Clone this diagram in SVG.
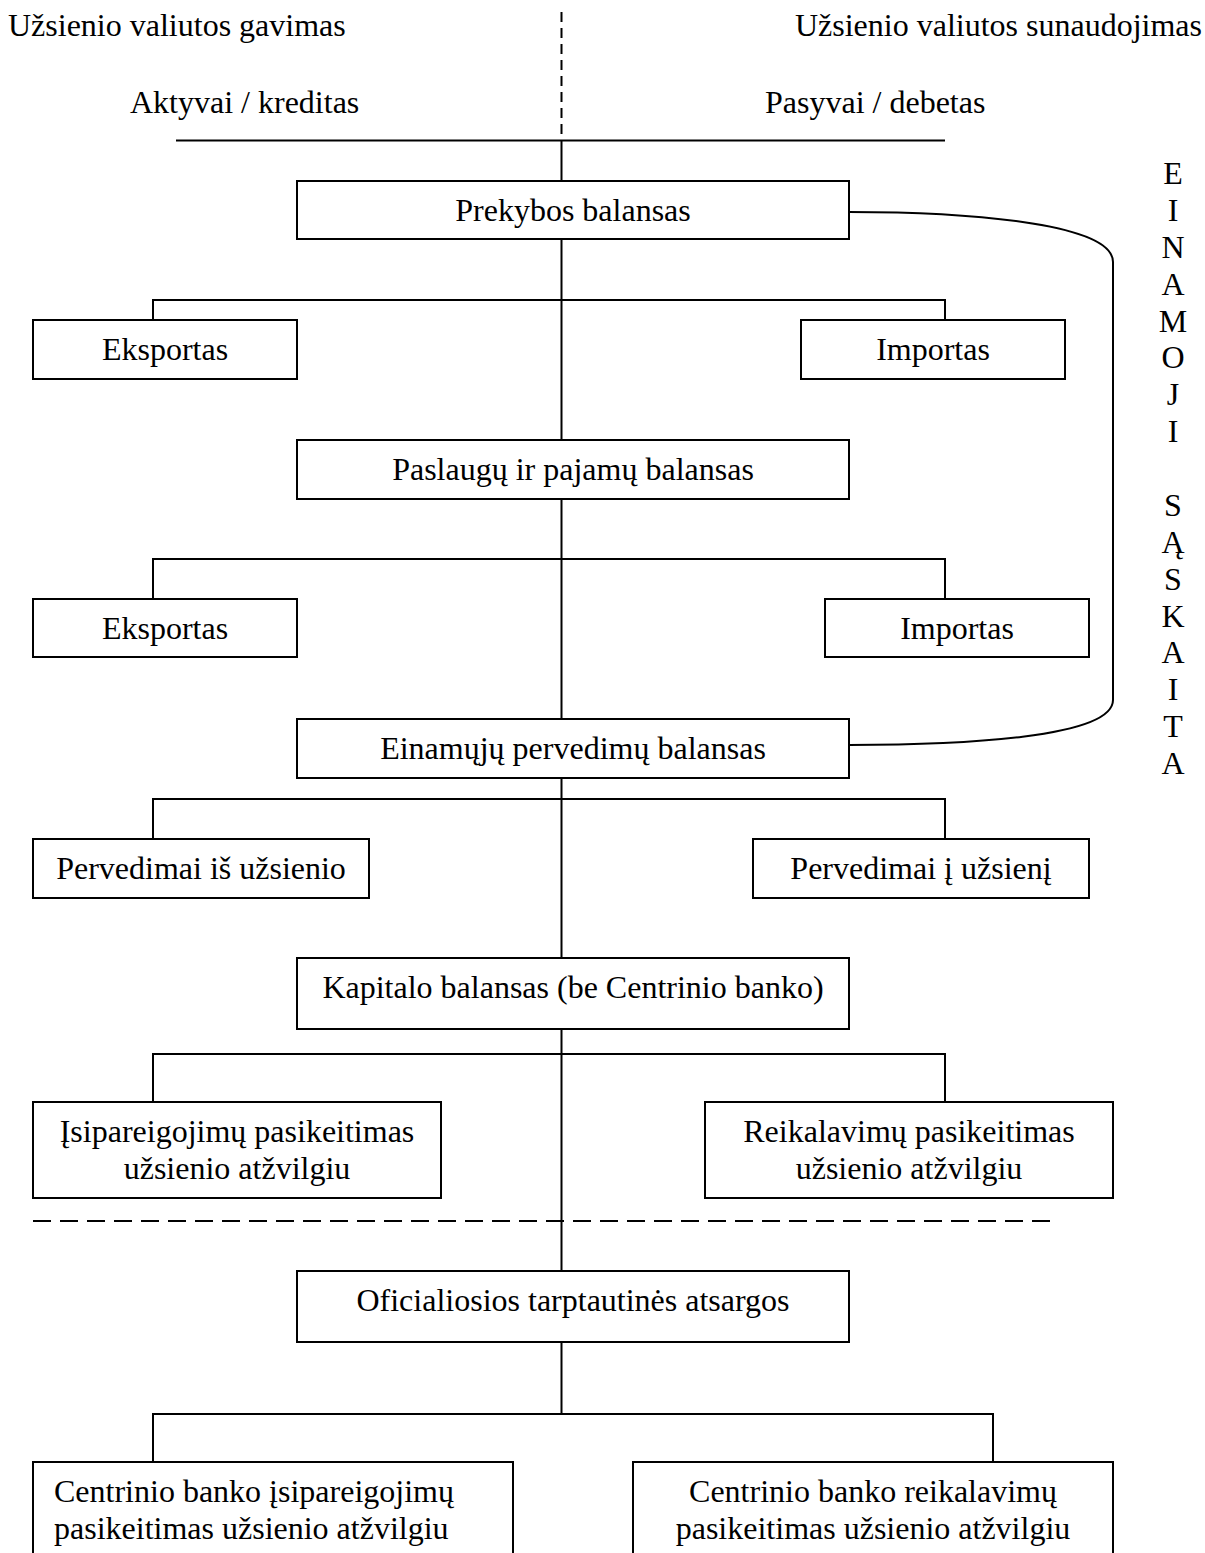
<svg xmlns="http://www.w3.org/2000/svg" width="1205" height="1553" viewBox="0 0 1205 1553">
<style>
text{font-family:"Liberation Serif","Times New Roman",serif;font-size:32px;fill:#000}
.c{text-anchor:middle}
.box{fill:#fff;stroke:#000;stroke-width:2}
.ln{fill:none;stroke:#000;stroke-width:2}
.dash{fill:none;stroke:#000;stroke-width:2}
</style>
<rect width="1205" height="1553" fill="#fff"/>
<g id="headers">
<text x="8" y="36">Užsienio valiutos gavimas</text>
<text x="1202" y="36" style="text-anchor:end">Užsienio valiutos sunaudojimas</text>
<text x="130" y="113">Aktyvai / kreditas</text>
<text x="765" y="113">Pasyvai / debetas</text>
</g>
<g id="connectors">
<line class="dash" x1="561.5" y1="12" x2="561.5" y2="140" stroke-dasharray="10 6"/>
<line class="ln" x1="176" y1="140.5" x2="945" y2="140.5"/>
<line class="ln" x1="561.5" y1="140" x2="561.5" y2="1414"/>
<path class="ln" d="M153,320 V300 H945 V320"/>
<path class="ln" d="M153,599 V559 H945 V599"/>
<path class="ln" d="M153,839 V799 H945 V839"/>
<path class="ln" d="M153,1102 V1054 H945 V1102"/>
<path class="ln" d="M153,1462 V1414 H993 V1462"/>
<line class="dash" x1="33" y1="1221" x2="1057" y2="1221" stroke-dasharray="18 9"/>
<path class="ln" d="M849,212 C960,212 1113,222 1113,262 L1113,700 C1113,738 960,745 849,745"/>
</g>
<g id="n-prekybos"><rect class="box" x="297" y="181" width="552" height="58"/><text class="c" x="573" y="221">Prekybos balansas</text></g>
<g id="n-eksportas1"><rect class="box" x="33" y="320" width="264" height="59"/><text class="c" x="165" y="360">Eksportas</text></g>
<g id="n-importas1"><rect class="box" x="801" y="320" width="264" height="59"/><text class="c" x="933" y="360">Importas</text></g>
<g id="n-paslaugu"><rect class="box" x="297" y="440" width="552" height="59"/><text class="c" x="573" y="480">Paslaugų ir pajamų balansas</text></g>
<g id="n-eksportas2"><rect class="box" x="33" y="599" width="264" height="58"/><text class="c" x="165" y="639">Eksportas</text></g>
<g id="n-importas2"><rect class="box" x="825" y="599" width="264" height="58"/><text class="c" x="957" y="639">Importas</text></g>
<g id="n-einamuju"><rect class="box" x="297" y="719" width="552" height="59"/><text class="c" x="573" y="759">Einamųjų pervedimų balansas</text></g>
<g id="n-perv-is"><rect class="box" x="33" y="839" width="336" height="59"/><text class="c" x="201" y="879">Pervedimai iš užsienio</text></g>
<g id="n-perv-i"><rect class="box" x="753" y="839" width="336" height="59"/><text class="c" x="921" y="879">Pervedimai į užsienį</text></g>
<g id="n-kapitalo"><rect class="box" x="297" y="958" width="552" height="71"/><text class="c" x="573" y="998">Kapitalo balansas (be Centrinio banko)</text></g>
<g id="n-isipareigojimu"><rect class="box" x="33" y="1102" width="408" height="96"/><text class="c" x="237" y="1142">Įsipareigojimų pasikeitimas</text><text class="c" x="237" y="1179">užsienio atžvilgiu</text></g>
<g id="n-reikalavimu"><rect class="box" x="705" y="1102" width="408" height="96"/><text class="c" x="909" y="1142">Reikalavimų pasikeitimas</text><text class="c" x="909" y="1179">užsienio atžvilgiu</text></g>
<g id="n-oficialiosios"><rect class="box" x="297" y="1271" width="552" height="71"/><text class="c" x="573" y="1311">Oficialiosios tarptautinės atsargos</text></g>
<g id="n-cb-isipareigojimu"><rect class="box" x="33" y="1462" width="480" height="100"/><text x="54" y="1502">Centrinio banko įsipareigojimų</text><text x="54" y="1539">pasikeitimas užsienio atžvilgiu</text></g>
<g id="n-cb-reikalavimu"><rect class="box" x="633" y="1462" width="480" height="100"/><text class="c" x="873" y="1502">Centrinio banko reikalavimų</text><text class="c" x="873" y="1539">pasikeitimas užsienio atžvilgiu</text></g>
<g id="side-label" class="c">
<text class="c" x="1173" y="184">E</text>
<text class="c" x="1173" y="221">I</text>
<text class="c" x="1173" y="258">N</text>
<text class="c" x="1173" y="295">A</text>
<text class="c" x="1173" y="332">M</text>
<text class="c" x="1173" y="368">O</text>
<text class="c" x="1173" y="405">J</text>
<text class="c" x="1173" y="442">I</text>
<text class="c" x="1173" y="516">S</text>
<text class="c" x="1173" y="553">Ą</text>
<text class="c" x="1173" y="590">S</text>
<text class="c" x="1173" y="627">K</text>
<text class="c" x="1173" y="663">A</text>
<text class="c" x="1173" y="700">I</text>
<text class="c" x="1173" y="737">T</text>
<text class="c" x="1173" y="774">A</text>
</g>
</svg>
